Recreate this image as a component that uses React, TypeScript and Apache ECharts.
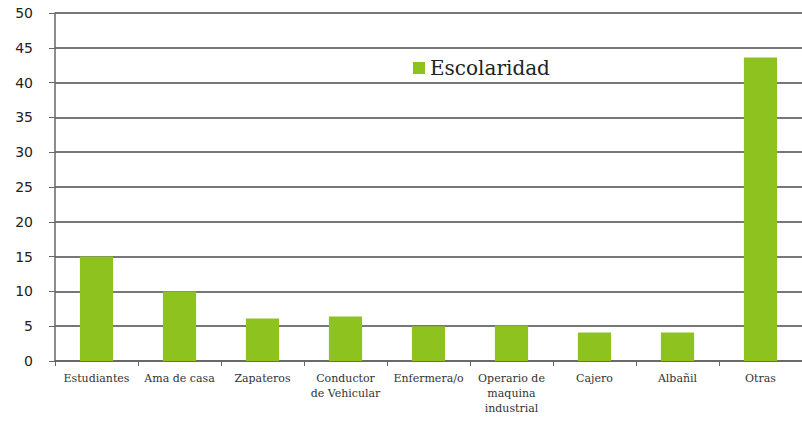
import React, { useEffect, useRef } from "react";
import * as echarts from "echarts";

const categories = [
  "Estudiantes",
  "Ama de casa",
  "Zapateros",
  "Conductor\nde Vehicular",
  "Enfermera/o",
  "Operario de\nmaquina\nindustrial",
  "Cajero",
  "Albañil",
  "Otras",
];
const seriesName = "Escolaridad";
const values = [15, 10, 6.1, 6.4, 5, 5.1, 4.1, 4.1, 43.6];
const yTicks = { min: 0, max: 50, interval: 5 };

export default function App() {
  const ref = useRef<HTMLDivElement>(null);
  useEffect(() => {
    if (!ref.current) return;
    const chart = echarts.init(ref.current, undefined, { renderer: "svg" });
    chart.setOption({
      animation: false,
      backgroundColor: "#ffffff",
      legend: {
        data: [seriesName],
        left: 408,
        top: 53,
        itemWidth: 12,
        itemHeight: 12,
        icon: "rect",
        textStyle: { fontFamily: "DejaVu Serif", fontSize: 20, color: "#222" },
      },
      grid: { left: 55, top: 13, width: 751, height: 348, containLabel: false },
      xAxis: {
        type: "category",
        data: categories,
        axisLine: { lineStyle: { color: "#666", width: 1.5 } },
        axisTick: { show: true, length: 5, lineStyle: { color: "#666" } },
        axisLabel: {
          interval: 0,
          fontFamily: "DejaVu Serif",
          fontSize: 11,
          color: "#333",
          lineHeight: 15,
          margin: 10,
        },
      },
      yAxis: {
        type: "value",
        min: yTicks.min,
        max: yTicks.max,
        interval: yTicks.interval,
        axisLine: { show: true, lineStyle: { color: "#666", width: 1.5 } },
        axisTick: { show: true, length: 6, lineStyle: { color: "#666" } },
        splitLine: { lineStyle: { color: "#4a4a4a", width: 1.5 } },
        axisLabel: {
          fontFamily: "DejaVu Sans",
          fontSize: 14,
          color: "#222",
          margin: 22,
        },
      },
      series: [
        {
          name: seriesName,
          type: "bar",
          data: values,
          barWidth: "40%",
          itemStyle: { color: "#8dc21f" },
        },
      ],
    });
    return () => chart.dispose();
  }, []);
  return (
    <div
      ref={ref}
      style={{ position: "fixed", left: 0, top: 0, width: 802, height: 425 }}
    />
  );
}
